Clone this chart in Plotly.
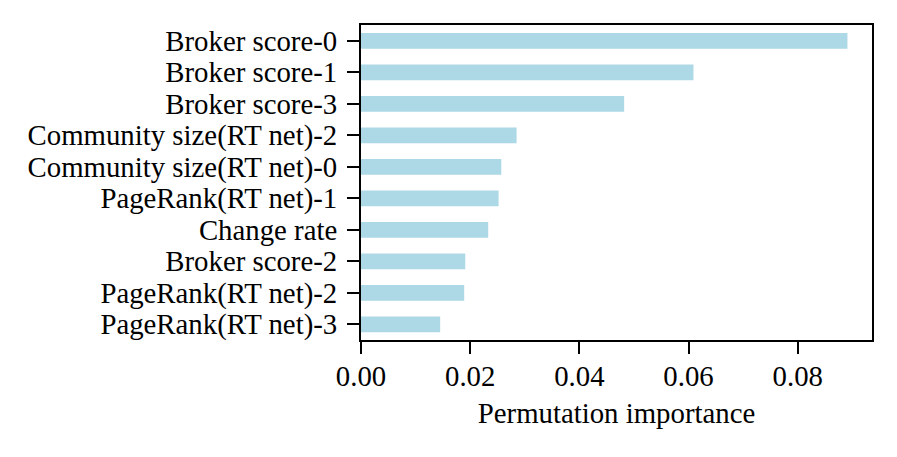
import plotly.graph_objects as go

features = [
    "Broker score-0",
    "Broker score-1",
    "Broker score-3",
    "Community size(RT net)-2",
    "Community size(RT net)-0",
    "PageRank(RT net)-1",
    "Change rate",
    "Broker score-2",
    "PageRank(RT net)-2",
    "PageRank(RT net)-3",
]
importance = [0.0891, 0.0609, 0.0482, 0.0285, 0.0257, 0.0252, 0.0233, 0.0191, 0.0189, 0.0145]
x_ticks = [0.0, 0.02, 0.04, 0.06, 0.08]
x_tick_labels = ["0.00", "0.02", "0.04", "0.06", "0.08"]

FONT = "Liberation Serif, Times New Roman, serif"
FS = 28.8

fig = go.Figure(
    go.Bar(
        x=importance,
        y=features,
        orientation="h",
        width=0.5,
        marker=dict(color="#ADD8E6", line=dict(width=0)),
    )
)

# page body has an 8px default margin, so the figure is a bit smaller
fig.update_layout(
    width=889,
    height=449,
    margin=dict(l=353, r=25, t=17, b=117, autoexpand=False),
    paper_bgcolor="white",
    plot_bgcolor="white",
    font=dict(family=FONT, size=FS, color="black"),
    showlegend=False,
)

fig.update_xaxes(
    range=[0, 0.0936],
    tickmode="array",
    tickvals=x_ticks,
    ticktext=x_tick_labels,
    ticks="outside",
    ticklen=12,
    tickwidth=2,
    tickcolor="black",
    ticklabelstandoff=-3,
    showline=True,
    linecolor="black",
    linewidth=2,
    mirror=True,
    showgrid=False,
    zeroline=False,
    automargin=False,
    title=dict(text="Permutation importance", font=dict(family=FONT, size=FS), standoff=12),
)

fig.update_yaxes(
    type="category",
    categoryorder="array",
    categoryarray=features,
    tickmode="array",
    tickvals=features,
    ticktext=features,
    range=[9.5, -0.5],
    ticks="outside",
    ticklen=12,
    tickwidth=2,
    tickcolor="black",
    ticklabelstandoff=4,
    showline=True,
    linecolor="black",
    linewidth=2,
    mirror=True,
    showgrid=False,
    zeroline=False,
    automargin=False,
)

fig.write_html("out.html")
